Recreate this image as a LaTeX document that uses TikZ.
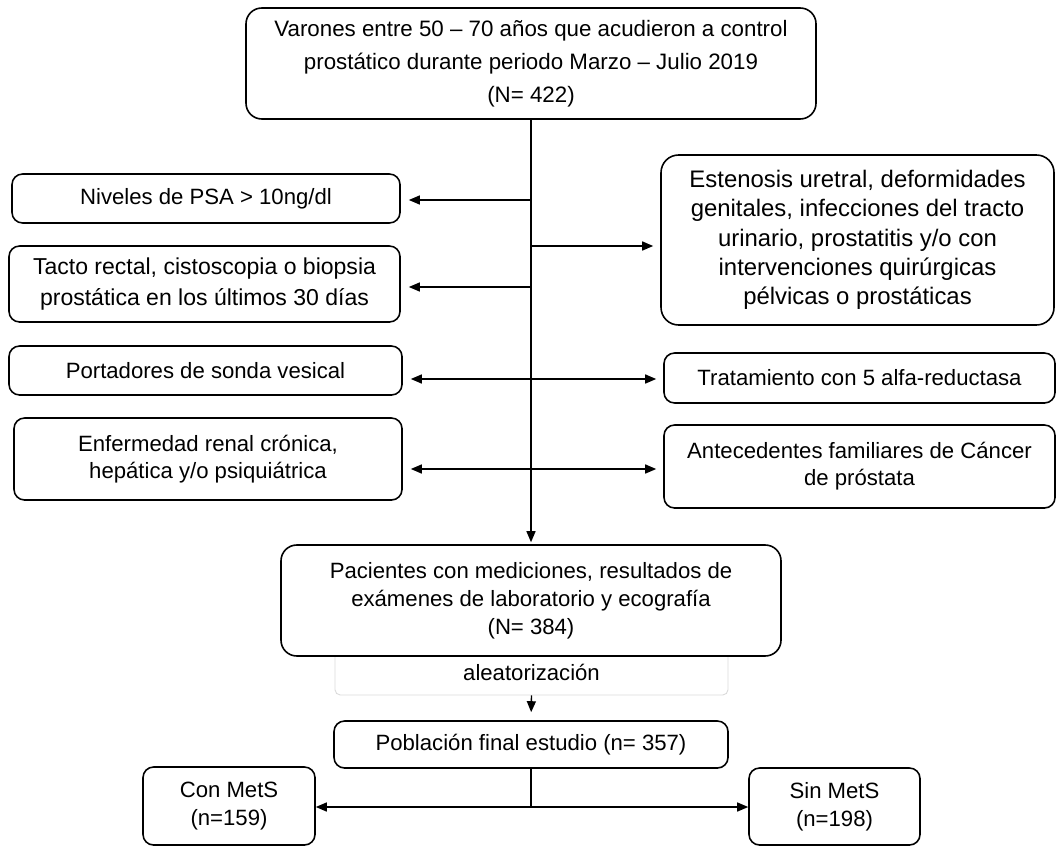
\documentclass[tikz,border=0pt]{standalone}
\usepackage{fontspec}
\setmainfont{Liberation Sans}
\usetikzlibrary{arrows.meta}

\tikzset{
    caja/.style={draw, line width=0.9pt, rounded corners=6pt, align=center, inner sep=0pt,
        font=\fontsize{12.6}{15.5}\selectfont},
    flecha/.style={line width=0.8pt, -{Triangle[length=2.2mm,width=1.8mm]}},
    linea/.style={line width=0.8pt}
}

\begin{document}
\begin{tikzpicture}
        \useasboundingbox (0,0) rectangle (21.2,-16.92);
        % inicio y exclusiones
        \node[caja, rounded corners=9pt, minimum width=11.4cm, minimum height=2.22cm,
            font=\fontsize{12.7}{18.8}\selectfont] (inicio) at (10.62,-1.27)
            {Varones entre 50 – 70 años que acudieron a control\\prostático durante periodo Marzo – Julio 2019\\(N= 422)};
        \node[caja, minimum width=7.76cm, minimum height=0.98cm] (psa) at (4.12,-3.97) {Niveles de PSA > 10ng/dl};
        \node[caja, minimum width=7.82cm, minimum height=1.52cm, font=\fontsize{13.1}{17.6}\selectfont] (tacto) at (4.09,-5.68)
            {Tacto rectal, cistoscopia o biopsia\\prostática en los últimos 30 días};
        \node[caja, rounded corners=10pt, minimum width=7.86cm, minimum height=3.4cm, font=\fontsize{13.6}{16.7}\selectfont] (estenosis) at (17.15,-4.80)
            {Estenosis uretral, deformidades\\genitales, infecciones del tracto\\urinario, prostatitis y/o con\\intervenciones quirúrgicas\\pélvicas o prostáticas};
        \node[caja, minimum width=7.86cm, minimum height=0.98cm] (sonda) at (4.11,-7.41) {Portadores de sonda vesical};
        \node[caja, minimum width=7.82cm, minimum height=1.0cm] (alfa) at (17.19,-7.56) {Tratamiento con 5 alfa-reductasa};
        \node[caja, minimum width=7.76cm, minimum height=1.64cm] (renal) at (4.16,-9.18)
            {Enfermedad renal crónica,\\hepática y/o psiquiátrica};
        \node[caja, minimum width=7.82cm, minimum height=1.66cm] (familia) at (17.19,-9.33)
            {Antecedentes familiares de Cáncer\\de próstata};
        % seleccion
        \node[caja, draw=gray!30, line width=0.5pt, rounded corners=3pt, minimum width=7.86cm, minimum height=0.9cm] (alea) at (10.63,-13.45) {aleatorización};
        \node[caja, fill=white, rounded corners=9pt, minimum width=10cm, minimum height=2.22cm,
            font=\fontsize{12.6}{16}\selectfont] (pacientes) at (10.62,-12.01)
            {Pacientes con mediciones, resultados de\\exámenes de laboratorio y ecografía\\(N= 384)};
        \node[caja, minimum width=7.88cm, minimum height=0.94cm] (poblacion) at (10.62,-14.89) {Población final estudio (n= 357)};
        \node[caja, minimum width=3.44cm, minimum height=1.56cm, font=\fontsize{12.6}{16}\selectfont] (conmets) at (4.58,-16.12) {Con MetS\\(n=159)};
        \node[caja, minimum width=3.42cm, minimum height=1.54cm, font=\fontsize{12.6}{16}\selectfont] (sinmets) at (16.69,-16.13) {Sin MetS\\(n=198)};

        % flechas
        \draw[flecha, shorten >=0.04cm] (inicio.south) -- (pacientes.north);
        \foreach \c/\y in {psa/-4.00, tacto/-5.74, sonda/-7.58, renal/-9.38}
        {
            \coordinate (r\c) at (10.62,\y);
            \draw[flecha, shorten >=0.16cm] (r\c) -- (r\c -| \c.east);
        }
        \foreach \c/\y in {estenosis/-4.92, alfa/-7.58, familia/-9.38}
        {
            \coordinate (r\c) at (10.62,\y);
            \draw[flecha, shorten >=0.14cm] (r\c) -- (r\c -| \c.west);
        }
        \draw[flecha, shorten >=0.16cm] (alea.south) -- (poblacion.north);
        \coordinate (reparto) at (poblacion.south |- 0,-16.14);
        \draw[linea] (poblacion.south) -- (reparto);
        \draw[flecha] (reparto) -- (reparto -| conmets.east);
        \draw[flecha] (reparto) -- (reparto -| sinmets.west);
    \end{tikzpicture}
\end{document}
